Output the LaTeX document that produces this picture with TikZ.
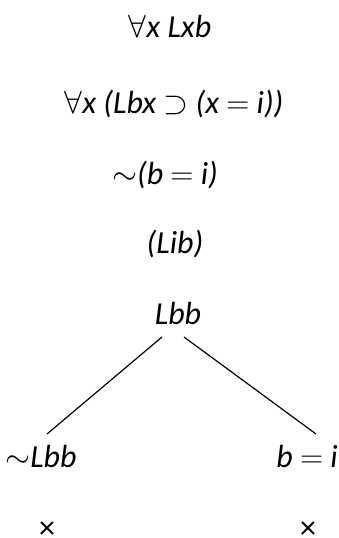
\documentclass[tikz,border=0pt]{standalone}
\usepackage{fix-cm}
\usepackage{fontspec}
\setmainfont{Carlito}
\usetikzlibrary{calc}
\tikzset{
  formula/.style={anchor=base, inner sep=0pt, font=\fontsize{32}{36}\selectfont\itshape},
  branch/.style={line width=1.2pt}
}
\begin{document}
\begin{tikzpicture}[x=1pt,y=-1pt]
\useasboundingbox (0,0) rectangle (339,538);
\node[formula] (l1) at (170,37) {$\forall$x Lxb};
\node[formula] (l2) at (174,113) {$\forall$x (Lbx $\supset$ (x $=$ i))};
\node[formula] (l3) at (165,184) {$\sim$(b $=$ i)};
\node[formula] (l4) at (175,253) {(Lib)};
\node[formula] (lbb) at (178,324) {Lbb};
\node[formula] (nlbb) at (41,467) {$\sim$Lbb};
\node[formula] (bi) at (307,467) {b $=$ i};
\node[formula, anchor=center] (x1) at (47,530) {\upshape ×};
\node[formula, anchor=center] (x2) at (308,530) {\upshape ×};
\draw[branch] ($(lbb.base)+(-16,13)$) -- ($(nlbb.base)+(6,-33)$);
\draw[branch] ($(lbb.base)+(6,13)$) -- ($(bi.base)+(9,-33)$);
\end{tikzpicture}
\end{document}
